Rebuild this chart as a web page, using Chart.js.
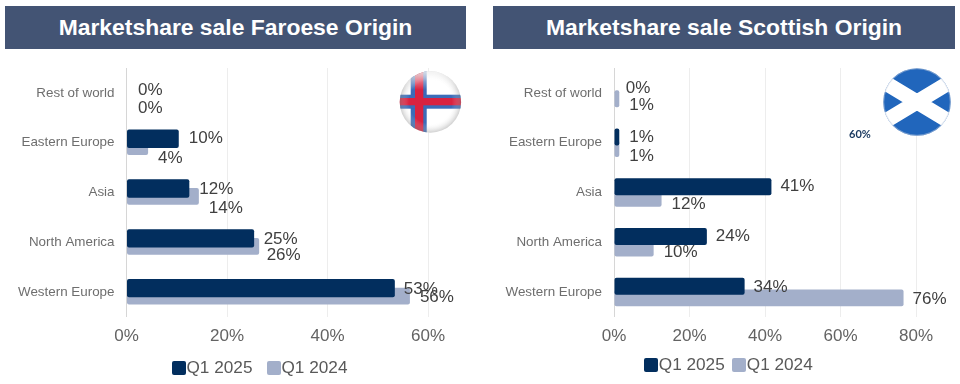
<!DOCTYPE html>
<html><head><meta charset="utf-8">
<script src="https://cdn.jsdelivr.net/npm/chart.js@4"></script>
<style>
html,body{margin:0;padding:0;background:#fff;width:960px;height:384px;overflow:hidden;font-family:"Liberation Sans",Arial,sans-serif}
canvas{position:absolute;top:0}
.banner{position:absolute;top:6px;height:43px;line-height:43px;background:#435474;color:#fff;font-weight:bold;font-size:22.9px;text-align:center}
.legend{position:absolute;height:14px;font-size:17.2px;color:#595959;white-space:nowrap}
.legend span{position:absolute;top:-4px;line-height:21px}
.legend i{position:absolute;top:0;width:13.5px;height:13.5px;border-radius:2px}
svg{position:absolute}
#stray{position:absolute;left:849px;top:127px;font:bold 11px Lato,sans-serif;color:#17375e}
</style></head><body>
<div class="banner" style="left:5px;width:461px">Marketshare sale Faroese Origin</div>
<div class="banner" style="left:493px;width:462px">Marketshare sale Scottish Origin</div>
<canvas id="c1" width="480" height="384" style="left:0;width:480px;height:384px"></canvas>
<canvas id="c2" width="480" height="384" style="left:480px;width:480px;height:384px"></canvas>
<svg style="left:399px;top:70px" width="64" height="64" viewBox="0 0 64 64">
<defs><radialGradient id="g" cx=".5" cy=".5" r=".5"><stop offset=".7" stop-color="#fff" stop-opacity="0"/><stop offset="1" stop-color="#888" stop-opacity=".4"/></radialGradient>
<linearGradient id="h" x1="0" y1="0" x2="0" y2="1"><stop offset="0" stop-color="#fff" stop-opacity=".75"/><stop offset=".3" stop-color="#fff" stop-opacity="0"/></linearGradient>
<filter id="b"><feGaussianBlur stdDeviation=".6"/></filter>
<clipPath id="fc"><circle cx="31.4" cy="32" r="30.7"/></clipPath><clipPath id="sc"><circle cx="35" cy="34" r="33.8"/></clipPath></defs>
<g clip-path="url(#fc)"><g filter="url(#b)"><rect x="-2" y="-2" width="68" height="68" fill="#fff"/>
<rect x="11.7" y="-2" width="16" height="68" fill="#3a6cb8"/><rect x="-2" y="24.7" width="68" height="14" fill="#3a6cb8"/>
<rect x="16" y="-2" width="8.3" height="68" fill="#d9233f"/><rect x="-2" y="28" width="68" height="7.3" fill="#d9233f"/></g></g>
<circle cx="31.4" cy="32" r="30.7" fill="url(#g)"/><circle cx="31.4" cy="32" r="30.7" fill="url(#h)"/></svg>
<svg style="left:882px;top:68px" width="70" height="70" viewBox="0 0 70 70">
<g clip-path="url(#sc)"><rect width="70" height="70" fill="#2166bc"/>
<path d="M-10 7 L80 61 M-10 61 L80 7" stroke="#fff" stroke-width="15"/></g><circle cx="35" cy="34" r="33.3" fill="none" stroke="#cfd6e2" stroke-opacity=".5"/></svg>
<div id="stray">60%</div>
<div class="legend" id="l1" style="left:0;top:361px"></div>
<div class="legend" id="l2" style="left:480px;top:358px"></div>
<script>
const categories = ["Rest of world","Eastern Europe","Asia","North America","Western Europe"];
const seriesNames = ["Q1 2025","Q1 2024"];
const faroese2025 = [0,10.4,12.5,25.4,53.4];
const faroese2024 = [0,4.3,14.4,26.4,56.4];
const scottish2025 = [0,1.4,41.7,24.6,34.6];
const scottish2024 = [1.4,1.4,12.6,10.5,76.7];
const faroeseTicks = [0,20,40,60];
const scottishTicks = [0,20,40,60,80];
const NAVY="#022e5e", LIGHT="#a3afca";

function labelPlugin(l){return {id:"vals",afterDatasetsDraw(ch){
  const c=ch.ctx;c.save();c.font='17px "Liberation Sans"';c.fillStyle="#404040";c.textBaseline="middle";c.textAlign="left";
  ch.data.datasets.forEach((d,i)=>{ch.getDatasetMeta(i).data.forEach((el,j)=>{
    c.fillText(Math.floor(d.data[j])+"%",el.x+l.gap[i][j]+(d.data[j]===0?l.zero:0),el.y+l.dy[i][j]);
  });});c.restore();}};}

function build(id,d1,d2,max,ticks,o){
  new Chart(document.getElementById(id),{type:"bar",
    data:{labels:categories,datasets:[
      {label:seriesNames[0],data:d1,backgroundColor:NAVY,borderRadius:2,borderSkipped:false,categoryPercentage:o.cat,barPercentage:o.bp1},
      {label:seriesNames[1],data:d2,backgroundColor:LIGHT,borderRadius:2,borderSkipped:false,categoryPercentage:o.cat,barPercentage:o.bp2}]},
    options:{indexAxis:"y",responsive:false,animation:false,
      layout:{padding:{top:o.top,right:o.right,left:0,bottom:0}},
      plugins:{legend:{display:false},tooltip:{enabled:false},title:{display:false}},
      scales:{
        x:{min:0,max,afterBuildTicks(s){s.ticks=ticks.map(v=>({value:v}));},
           afterFit(s){s.height=67;},
           ticks:{callback:v=>v+"%",color:"#636363",font:{size:17,family:"Liberation Sans"},maxRotation:0,padding:9},
           grid:{color:c=>c.tick&&c.tick.value===0?"#d6d6d6":"#ededed",lineWidth:1,drawTicks:false},border:{display:false}},
        y:{afterFit(s){s.width=o.left;},
           ticks:{color:"#6e6e6e",font:{size:13.4,family:"Liberation Sans"},padding:4},
           grid:{display:false},border:{display:false}}
      }},
    plugins:[labelPlugin(o.lab)]});
}
build("c1",faroese2025,faroese2024,60,faroeseTicks,{left:126.5,right:52,top:68,cat:.32,bp1:2.3,bp2:2.1,
  lab:{zero:1.5,gap:[[10,10,10,9.5,9],[10,10,10,7.5,10]],dy:[[1,0,1,1,1],[11,12,12,9,1]]}});
build("c2",scottish2025,scottish2024,80,scottishTicks,{left:134,right:44,top:68,cat:.464,bp1:1.47,bp2:1.47,
  lab:{zero:1.7,gap:[[10,10,9,9,9],[10,10,10,10,9]],dy:[[1.5,.5,0,0,.5],[7,8,6,4.5,1.5]]}});

function legend(id,x1,x2){const el=document.getElementById(id);
  [[x1,NAVY,seriesNames[0]],[x2,LIGHT,seriesNames[1]]].forEach(([x,col,t])=>{
    el.insertAdjacentHTML("beforeend",`<i style="left:${x}px;background:${col}"></i><span style="left:${x+14.5}px">${t}</span>`);});}
legend("l1",172,267);
legend("l2",164.3,252.3);
</script></body></html>
